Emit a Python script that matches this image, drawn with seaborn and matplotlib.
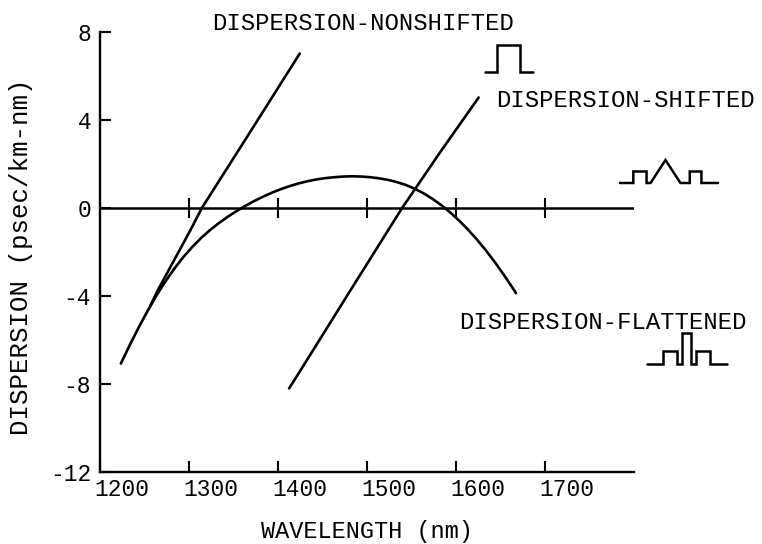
"""
Disperzija optičkih vlakana: nonshifted, shifted i flattened.
"""

import matplotlib
matplotlib.use("Agg")
import matplotlib.pyplot as plt
import matplotlib.transforms as mtransforms
import pandas as pd
import seaborn as sns

# ---------------------------------------------------------------------------
# Podaci očitani sa slike
# ---------------------------------------------------------------------------

flat_wl = [1224, 1234, 1244, 1254, 1264, 1274, 1284, 1294, 1304, 1314, 1324,
           1334, 1344, 1354, 1364, 1374, 1384, 1394, 1404, 1414, 1424, 1434,
           1444, 1454, 1464, 1474, 1484, 1494, 1504, 1514, 1524, 1534, 1544,
           1554, 1564, 1574, 1584, 1594, 1604, 1614, 1624, 1634, 1644, 1654,
           1664, 1668]
flat_disp = [-7.07, -6.23, -5.43, -4.68, -3.98, -3.34, -2.76, -2.24, -1.78,
             -1.37, -1.01, -0.69, -0.40, -0.14, 0.10, 0.32, 0.52, 0.70, 0.86,
             1.00, 1.12, 1.22, 1.30, 1.36, 1.40, 1.43, 1.44, 1.43, 1.40, 1.35,
             1.28, 1.18, 1.05, 0.88, 0.67, 0.42, 0.13, -0.20, -0.57, -0.98,
             -1.43, -1.92, -2.45, -3.02, -3.62, -3.87]

nonshift_wl = [1257, 1266, 1302, 1315, 1370, 1425]
nonshift_disp = [-4.45, -3.70, -1.02, 0.0, 3.5, 7.02]

shift_wl = [1413, 1424, 1482, 1540, 1583, 1626]
shift_disp = [-8.2, -7.5, -3.74, 0.0, 2.55, 5.02]

x_ticks = [1200, 1300, 1400, 1500, 1600, 1700]
y_ticks = [-12, -8, -4, 0, 4, 8]

labels = ["DISPERSION-NONSHIFTED", "DISPERSION-SHIFTED", "DISPERSION-FLATTENED"]

# oblici impulsa (relativne koordinate)
pulse_single_x = [0, 0.24, 0.24, 0.72, 0.72, 1.0]
pulse_single_y = [0, 0, 1, 1, 0, 0]
pulse_shifted_x = [0, .136, .136, .271, .271, .312, .464, .617, .712, .712, .831, .831, 1.0]
pulse_shifted_y = [0, 0, .5, .5, 0, 0, 1, 0, 0, .5, .5, 0, 0]
pulse_flat_x = [0, .2, .2, .375, .375, .438, .438, .554, .554, .617, .617, .783, .783, 1]
pulse_flat_y = [0, 0, .41, .41, 0, 0, 1, 1, 0, 0, .41, .41, 0, 0]

# ---------------------------------------------------------------------------

sns.set_theme(style="white")
plt.rcParams["font.family"] = ["Liberation Mono", "DejaVu Sans Mono"]
plt.rcParams["axes.unicode_minus"] = False

W, H = 762, 544
fig = plt.figure(figsize=(W / 100, H / 100), dpi=100)
ax = fig.add_axes([99.5 / W, 1 - 472 / H, 534 / W, 440 / H])

frames = []
for name, wl, disp in [
    ("flattened", flat_wl, flat_disp),
    ("nonshifted", nonshift_wl, nonshift_disp),
    ("shifted", shift_wl, shift_disp),
]:
    frames.append(pd.DataFrame({"wl": wl, "disp": disp, "fiber": name}))
df = pd.concat(frames, ignore_index=True)

sns.lineplot(data=df, x="wl", y="disp", units="fiber", estimator=None,
             sort=False, color="black", linewidth=1.9, ax=ax)

ax.set_xlim(1200, 1800)
ax.set_ylim(-12, 8)
ax.set_xticks(x_ticks)
ax.set_yticks(y_ticks)

# nulta linija sa crticama
ax.axhline(0, color="black", linewidth=1.8)
ax.plot(x_ticks[1:], [0] * len(x_ticks[1:]), linestyle="none", marker="|",
        markersize=15, markeredgewidth=1.5, color="black")

for side in ["top", "right"]:
    ax.spines[side].set_visible(False)
for side in ["left", "bottom"]:
    ax.spines[side].set_color("black")
    ax.spines[side].set_linewidth(1.7)

ax.tick_params(axis="both", direction="in", length=8, width=1.5,
               colors="black", labelsize=16.5, bottom=True, left=True)
ax.tick_params(axis="y", pad=6)
ax.tick_params(axis="x", pad=4)

offset = mtransforms.ScaledTranslation(-0.055, 0, fig.dpi_scale_trans)
for lbl in ax.get_xticklabels():
    lbl.set_horizontalalignment("left")
    lbl.set_transform(lbl.get_transform() + offset)

ax.set_xlabel("WAVELENGTH (nm)", fontsize=17, color="black")
ax.set_ylabel("DISPERSION (psec/km-nm)", fontsize=18.5, color="black")
ax.xaxis.set_label_coords(0.5, -0.108)
ax.yaxis.set_label_coords(-0.125, 0.49)

# natpisi krivih
ax.text(1326.7, 8.11, labels[0], fontsize=17.2, ha="left", va="baseline",
        color="black", clip_on=False)
ax.text(1645.3, 4.61, labels[1], fontsize=17.2, ha="left", va="baseline",
        color="black", clip_on=False)
ax.text(1603.7, -5.48, labels[2], fontsize=17.2, ha="left", va="baseline",
        color="black", clip_on=False)


def draw_pulse(px, py, pw, ph, xs, ys):
    """Mala ikona impulsa u pikselskim koordinatama slike."""
    iax = fig.add_axes([px / W, 1 - (py + ph) / H, pw / W, ph / H])
    iax.plot(xs, ys, color="black", linewidth=1.8, clip_on=False,
             solid_joinstyle="miter")
    iax.set_xlim(0, 1)
    iax.set_ylim(0, 1)
    iax.axis("off")


draw_pulse(485, 45, 48, 27, pulse_single_x, pulse_single_y)
draw_pulse(620, 160, 98, 23, pulse_shifted_x, pulse_shifted_y)
draw_pulse(647, 333, 80, 31, pulse_flat_x, pulse_flat_y)

fig.savefig("out.png", dpi=100)
plt.close(fig)
